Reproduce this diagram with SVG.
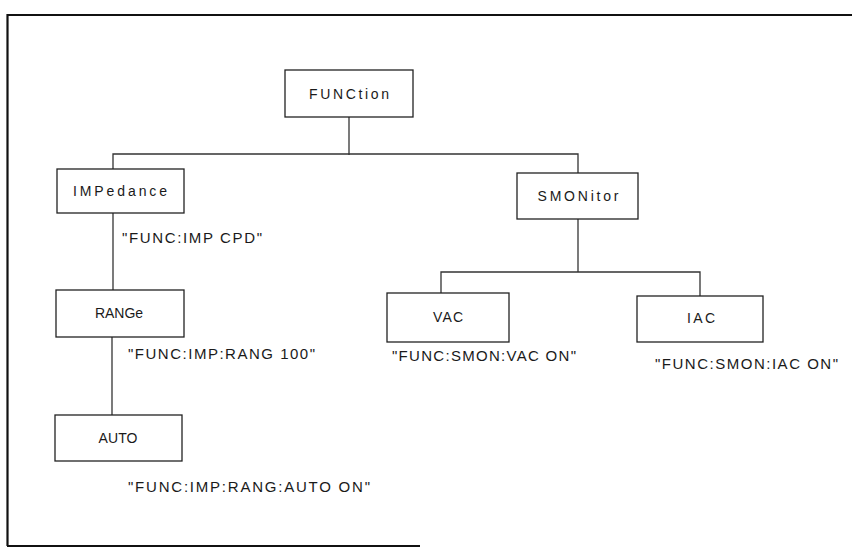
<svg xmlns="http://www.w3.org/2000/svg" width="852" height="548" viewBox="0 0 852 548">
<style>
.box{fill:#fff;stroke:#222;stroke-width:1.3}
.ln{fill:none;stroke:#333;stroke-width:1.3}
.nt{font-family:"Liberation Sans","DejaVu Sans",sans-serif;font-size:14px;fill:#1a1a1a;text-anchor:middle;dominant-baseline:central}
.lb{font-family:"Liberation Sans","DejaVu Sans",sans-serif;font-size:15px;fill:#1a1a1a;dominant-baseline:central}
</style>
<rect width="852" height="548" fill="#fff"/>
<path d="M7.5,546 V15 H852" fill="none" stroke="#111" stroke-width="2.2"/>
<path d="M7,546 H420" fill="none" stroke="#111" stroke-width="2"/>
<g id="connectors">
<path class="ln" d="M349,117 V155"/>
<path class="ln" d="M113,169 V154 H578 V173"/>
<path class="ln" d="M113,213 V290"/>
<path class="ln" d="M112,337 V415"/>
<path class="ln" d="M578,219 V272"/>
<path class="ln" d="M441,293 V272 H700 V296"/>
</g>
<g id="n-function"><rect class="box" x="285" y="70" width="128" height="47"/><text class="nt" x="349" y="94" textLength="80" lengthAdjust="spacing">FUNCtion</text></g>
<g id="n-impedance"><rect class="box" x="57" y="169" width="127" height="44"/><text class="nt" x="120" y="191" textLength="94" lengthAdjust="spacing">IMPedance</text></g>
<g id="n-range"><rect class="box" x="56" y="290" width="128" height="47"/><text class="nt" x="119" y="313" textLength="48" lengthAdjust="spacing">RANGe</text></g>
<g id="n-auto"><rect class="box" x="55" y="415" width="127" height="46"/><text class="nt" x="118" y="438" textLength="39" lengthAdjust="spacing">AUTO</text></g>
<g id="n-smonitor"><rect class="box" x="517" y="173" width="121" height="46"/><text class="nt" x="578" y="196" textLength="81" lengthAdjust="spacing">SMONitor</text></g>
<g id="n-vac"><rect class="box" x="387" y="293" width="122" height="49"/><text class="nt" x="448" y="317" textLength="30" lengthAdjust="spacing">VAC</text></g>
<g id="n-iac"><rect class="box" x="637" y="296" width="126" height="46"/><text class="nt" x="701" y="318" textLength="28" lengthAdjust="spacing">IAC</text></g>
<g id="labels">
<text class="lb" x="122" y="237" textLength="140" lengthAdjust="spacing">"FUNC:IMP CPD"</text>
<text class="lb" x="128" y="353" textLength="187" lengthAdjust="spacing">"FUNC:IMP:RANG 100"</text>
<text class="lb" x="128" y="486" textLength="242" lengthAdjust="spacing">"FUNC:IMP:RANG:AUTO ON"</text>
<text class="lb" x="392" y="355" textLength="184" lengthAdjust="spacing">"FUNC:SMON:VAC ON"</text>
<text class="lb" x="655" y="363" textLength="183" lengthAdjust="spacing">"FUNC:SMON:IAC ON"</text>
</g>
</svg>
